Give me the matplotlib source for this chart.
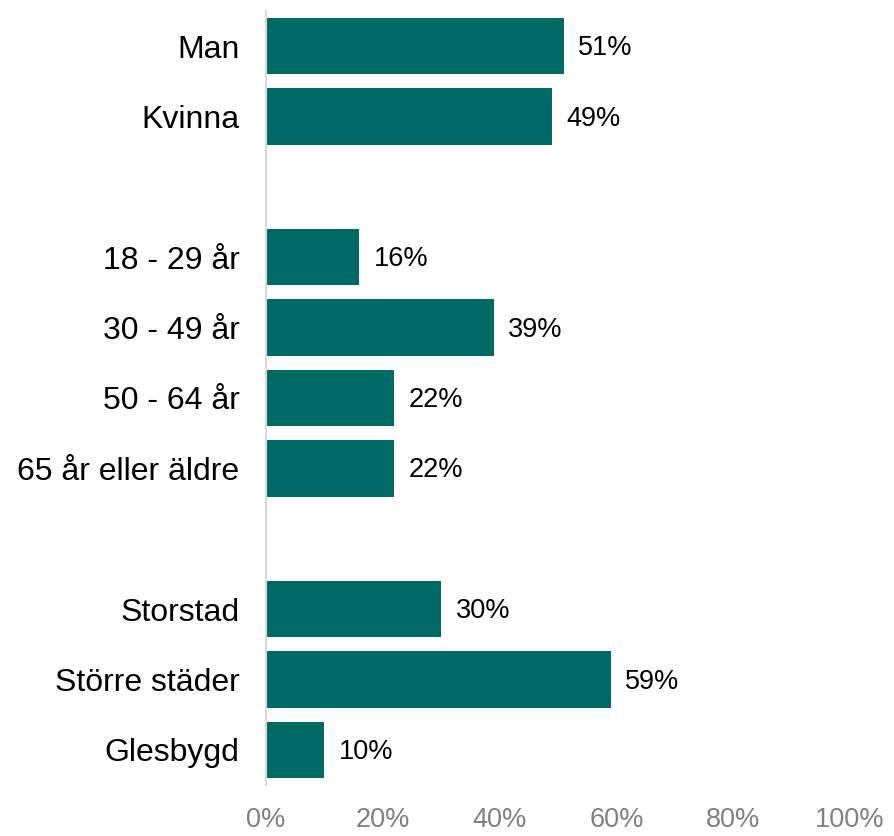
import matplotlib
matplotlib.use('Agg')
import matplotlib.pyplot as plt

plt.rcParams['font.family'] = ['Liberation Sans', 'DejaVu Sans']

# empty string = spacer row between groups
labels = ['Man', 'Kvinna', '',
          '18 - 29 år', '30 - 49 år', '50 - 64 år', '65 år eller äldre', '',
          'Storstad', 'Större städer', 'Glesbygd']
values = [51, 49, None,
          16, 39, 22, 22, None,
          30, 59, 10]

bar_color = '#006B66'

fig = plt.figure(figsize=(8.94, 8.36), dpi=100)
ax = fig.add_axes([266 / 894, 1 - 785 / 836, (850 - 266) / 894, (785 - 11) / 836])

ys = list(range(len(labels)))
for y, v in zip(ys, values):
    if v is None:
        continue
    ax.barh(y, v, height=0.8, color=bar_color)
    ax.text(v + 2.5, y + 0.03, f'{v}%', va='center', ha='left', fontsize=19.5, color='black')

ax.set_ylim(len(labels) - 0.5, -0.5)
ax.set_xlim(0, 100)
ax.set_yticks(ys)
ax.set_yticklabels(labels, fontsize=23)
ax.set_xticks([0, 20, 40, 60, 80, 100])
ax.set_xticklabels([f'{t}%' for t in range(0, 101, 20)], fontsize=19.5, color='#808080')
ax.tick_params(axis='both', length=0)
ax.tick_params(axis='y', pad=19)
ax.tick_params(axis='x', pad=16)

for s in ['top', 'right', 'bottom']:
    ax.spines[s].set_visible(False)
ax.spines['left'].set_color('#D9D9D9')
ax.spines['left'].set_linewidth(1.5)

fig.savefig('out.png', dpi=100)
